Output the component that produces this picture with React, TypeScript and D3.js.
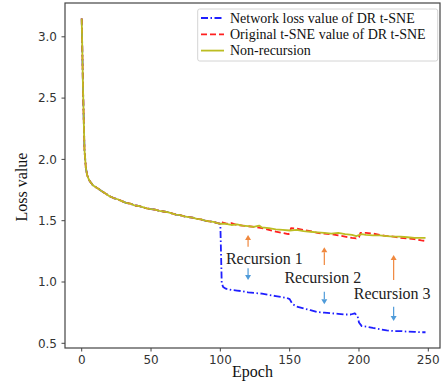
import React from 'react';
import * as d3 from 'd3';

// Shared early part (all three curves coincide until epoch 100)
const baseEpochs = [0,1,2,3,4,5,6,7,8,10,12,14,16,18,20,23,26,29,32,35,38,41,44,47,50,53,56,59,62,65,68,71,74,77,80,83,86,89,92,95,98,100];
const baseLoss = [3.15,2.55,2.08,1.93,1.87,1.84,1.82,1.805,1.79,1.775,1.76,1.745,1.73,1.715,1.70,1.685,1.675,1.66,1.645,1.64,1.625,1.62,1.61,1.60,1.595,1.59,1.58,1.575,1.57,1.56,1.55,1.545,1.535,1.53,1.525,1.515,1.51,1.50,1.495,1.49,1.48,1.475];

const networkEpochs = [101,102,104,108,112,116,120,125,130,135,140,145,148,150,152,155,160,165,170,175,180,185,190,194,197,199,200,202,206,210,215,220,225,230,235,240,245,248];
const networkLoss = [0.99,0.96,0.945,0.935,0.93,0.925,0.915,0.91,0.905,0.895,0.885,0.875,0.87,0.86,0.82,0.80,0.785,0.77,0.755,0.75,0.745,0.74,0.735,0.735,0.745,0.72,0.67,0.64,0.635,0.625,0.615,0.605,0.60,0.60,0.595,0.593,0.59,0.59];

const originalEpochs = [101,102,105,108,112,116,120,125,130,135,140,145,149,150,151,155,160,165,170,175,180,185,190,195,198,200,201,205,210,215,220,225,230,235,240,245,248];
const originalLoss = [1.49,1.485,1.475,1.48,1.465,1.46,1.455,1.45,1.44,1.425,1.41,1.40,1.39,1.395,1.44,1.435,1.425,1.415,1.40,1.395,1.39,1.38,1.37,1.36,1.355,1.365,1.40,1.40,1.395,1.385,1.375,1.37,1.36,1.355,1.35,1.34,1.335];

const nonRecEpochs = [104,108,112,116,120,124,128,130,135,140,145,150,155,160,165,170,175,180,185,190,195,198,202,205,210,215,220,225,230,235,240,245,248];
const nonRecLoss = [1.475,1.465,1.47,1.46,1.455,1.45,1.46,1.445,1.44,1.43,1.425,1.42,1.425,1.415,1.41,1.405,1.40,1.395,1.40,1.39,1.385,1.375,1.39,1.385,1.38,1.38,1.375,1.37,1.37,1.365,1.36,1.36,1.36];

const seriesNames = ['Network loss value of DR t-SNE', 'Original t-SNE value of DR t-SNE', 'Non-recursion'];
const xTicks = [0, 50, 100, 150, 200, 250];
const yTicks = [0.5, 1.0, 1.5, 2.0, 2.5, 3.0];

const recursionLabels = ['Recursion 1', 'Recursion 2', 'Recursion 3'];
const recursionEpochs = [120, 175, 225];
const labelEpochs = [104, 146.2, 196.2];
const labelLoss = [1.147, 0.989, 0.861];
const upTail = [1.288, 1.139, 1.016];
const upHead = [1.383, 1.283, 1.22];
const downTail = [1.112, 0.921, 0.799];
const downHead = [1.016, 0.818, 0.682];

const W = 442, H = 383;
const L = 65, R = 440, T = 3, B = 348;

const x = d3.scaleLinear().domain([0, 250]).range([81.7, 428.3]);
const y = d3.scaleLinear().domain([0.5, 3.0]).range([343.3, 36.8]);

type P = [number, number];
const zip = (e: number[], v: number[]): P[] => e.map((d, i) => [d, v[i]] as P);
const base = zip(baseEpochs, baseLoss);
const netData = base.concat(zip(networkEpochs, networkLoss));
const origData = base.concat(zip(originalEpochs, originalLoss));
const nonData = base.concat(zip(nonRecEpochs, nonRecLoss));

const line = d3.line<P>().x(d => x(d[0])).y(d => y(d[1]));

const BLUE = '#1f1fff';
const RED = '#ff2020';
const YEL = '#bcbd22';
const ORANGE = '#f0883e';
const LBLUE = '#4f9bd9';
const styles = [
  { color: BLUE, dash: '7,2.5,1.5,2.5' },
  { color: RED, dash: '6,3' },
  { color: YEL, dash: '' },
];

function Arrow({ ex, t, h, color }: { ex: number; t: number; h: number; color: string }) {
  const px = x(ex), ty = y(t), hy = y(h);
  const dir = hy < ty ? -1 : 1;
  const hl = 5;
  return (
    <g>
      <line x1={px} x2={px} y1={ty} y2={hy - dir * hl} stroke={color} strokeWidth={1.2} />
      <path d={`M${px - 3},${hy - dir * hl} L${px + 3},${hy - dir * hl} L${px},${hy} Z`} fill={color} />
    </g>
  );
}

export default function App() {
  const serif = "'Liberation Serif', 'Times New Roman', serif";
  const sans = "'DejaVu Sans', sans-serif";
  const datas = [netData, origData, nonData];
  return (
    <svg width={W} height={H} style={{ position: 'absolute', left: 0, top: 0, background: '#fff' }}>
      <rect x={0} y={0} width={W} height={H} fill="#fff" />
      <defs>
        <clipPath id="plot"><rect x={L} y={T} width={R - L} height={B - T} /></clipPath>
      </defs>
      <g clipPath="url(#plot)">
        {datas.map((d, i) => (
          <path key={i} d={line(d) || ''} fill="none" stroke={styles[i].color} strokeWidth={1.8}
            strokeDasharray={styles[i].dash || undefined} strokeLinejoin="round" />
        ))}
      </g>
      {/* frame */}
      <rect x={L} y={T} width={R - L} height={B - T} fill="none" stroke="#444" strokeWidth={1.2} />
      {/* y ticks */}
      {yTicks.map(t => (
        <g key={t}>
          <line x1={L} x2={L - 3.5} y1={y(t)} y2={y(t)} stroke="#444" strokeWidth={1} />
          <text x={L - 8} y={y(t)} dy="0.35em" textAnchor="end" fontFamily={sans} fontSize={12} fill="#333">{d3.format('.1f')(t)}</text>
        </g>
      ))}
      {xTicks.map(t => (
        <g key={t}>
          <line x1={x(t)} x2={x(t)} y1={B} y2={B + 3.5} stroke="#444" strokeWidth={1} />
          <text x={x(t)} y={B + 16} textAnchor="middle" fontFamily={sans} fontSize={12} fill="#333">{t}</text>
        </g>
      ))}
      <text x={(L + R) / 2} y={377} textAnchor="middle" fontFamily={serif} fontSize={16} fill="#111">Epoch</text>
      <text transform={`translate(27,187) rotate(-90)`} textAnchor="middle" fontFamily={serif} fontSize={16} fill="#111">Loss value</text>
      {/* annotations */}
      {recursionEpochs.map((e, i) => (
        <g key={i}>
          <Arrow ex={e} t={upTail[i]} h={upHead[i]} color={ORANGE} />
          <Arrow ex={e} t={downTail[i]} h={downHead[i]} color={LBLUE} />
          <text x={x(labelEpochs[i])} y={y(labelLoss[i])} fontFamily={serif} fontSize={16} fill="#222">{recursionLabels[i]}</text>
        </g>
      ))}
      {/* legend */}
      <rect x={197.7} y={9} width={240} height={52} rx={2} fill="#fff" fillOpacity={0.85} stroke="#d4d4d4" strokeWidth={1} />
      {seriesNames.map((n, i) => (
        <g key={n}>
          <line x1={201} x2={224} y1={18 + i * 16.3} y2={18 + i * 16.3} stroke={styles[i].color} strokeWidth={1.8}
            strokeDasharray={styles[i].dash || undefined} />
          <text x={230} y={18 + i * 16.3} dy="0.33em" fontFamily={serif} fontSize={14} fill="#111">{n}</text>
        </g>
      ))}
    </svg>
  );
}
